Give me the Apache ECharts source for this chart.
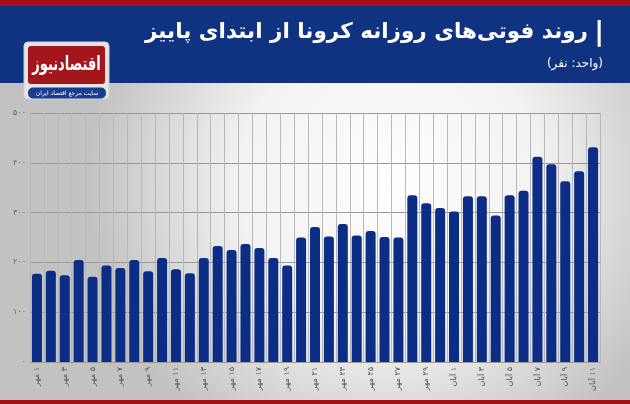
<!DOCTYPE html>
<html>
<head>
<meta charset="utf-8">
<script src="https://cdn.jsdelivr.net/npm/echarts@6/dist/echarts.min.js"></script>
<style>
html,body{margin:0;padding:0;background:#fff;}
#c{width:630px;height:404px;}
</style>
</head>
<body>
<div id="c" dir="rtl"></div>
<script>
var categories = [
  '۱ مهر','۲ مهر','۳ مهر','۴ مهر','۵ مهر','۶ مهر','۷ مهر','۸ مهر','۹ مهر','۱۰ مهر',
  '۱۱ مهر','۱۲ مهر','۱۳ مهر','۱۴ مهر','۱۵ مهر','۱۶ مهر','۱۷ مهر','۱۸ مهر','۱۹ مهر','۲۰ مهر',
  '۲۱ مهر','۲۲ مهر','۲۳ مهر','۲۴ مهر','۲۵ مهر','۲۶ مهر','۲۷ مهر','۲۸ مهر','۲۹ مهر','۳۰ مهر',
  '۱ آبان','۲ آبان','۳ آبان','۴ آبان','۵ آبان','۶ آبان','۷ آبان','۸ آبان','۹ آبان','۱۰ آبان','۱۱ آبان'
];
var deaths = [
  177, 183, 174, 205, 171, 194, 189, 205, 182, 209,
  186, 178, 209, 233, 225, 237, 229, 209, 194, 250,
  271, 252, 277, 254, 263, 251, 250, 335, 319, 309,
  302, 333, 333, 294, 335, 344, 412, 397, 363, 383, 431
];
var yTickLabels = ['۰','۱۰۰','۲۰۰','۳۰۰','۴۰۰','۵۰۰'];
var titleText = 'روند فوتی\u200cهای روزانه کرونا از ابتدای پاییز';
var subtitleText = '(واحد: نفر)';
var logoText = 'اقتصادنیوز';
var logoSub = 'سایت مرجع اقتصاد ایران';

var chart = echarts.init(document.getElementById('c'), null, {renderer: 'canvas'});
var FONT = '"DejaVu Sans", "Noto Sans", sans-serif';
chart.setOption({
  animation: false,
  backgroundColor: {
    type: 'radial', x: 0.62, y: 0.45, r: 0.75,
    colorStops: [{offset: 0, color: '#ffffff'}, {offset: 0.5, color: '#f2f2f2'}, {offset: 1, color: '#c2c2c2'}]
  },
  textStyle: {fontFamily: FONT},
  grid: {left: 30, right: 30, top: 113, bottom: 42},
  xAxis: {
    type: 'category',
    data: categories,
    boundaryGap: true,
    axisLine: {show: true, lineStyle: {color: '#9a9a9a', width: 1}},
    axisTick: {show: false},
    splitLine: {show: true, interval: 0, lineStyle: {color: '#b8b8b8', width: 1}},
    axisLabel: {interval: 1, rotate: 90, fontSize: 8, color: '#555', margin: 5, fontFamily: FONT}
  },
  yAxis: {
    type: 'value',
    min: 0, max: 500, interval: 100,
    axisLine: {show: false},
    axisTick: {show: false},
    splitLine: {show: true, lineStyle: {color: '#999999', width: 1}},
    axisLabel: {fontSize: 8, color: '#666', margin: 4, fontFamily: FONT,
      formatter: function (v) { return yTickLabels[Math.round(v / 100)]; }}
  },
  series: [{
    type: 'bar',
    data: deaths,
    barWidth: 10,
    itemStyle: {color: '#0b2d85', borderRadius: [3, 3, 0, 0]}
  }],
  graphic: [
    {type: 'rect', shape: {x: 0, y: 0, width: 630, height: 6}, style: {fill: '#a50f16'}, z: 10},
    {type: 'rect', shape: {x: 0, y: 6, width: 630, height: 77}, style: {fill: '#0f3381'}, z: 10},
    {type: 'rect', shape: {x: 0, y: 400, width: 630, height: 4}, style: {fill: '#a50f16'}, z: 10},
    {type: 'text', right: 26, top: 19, z: 11,
      style: {text: '|', fill: '#ffffff', font: 'bold 27px ' + FONT}},
    {type: 'text', right: 42, top: 21, z: 11,
      style: {text: titleText, fill: '#ffffff', font: 'bold 21.5px ' + FONT}},
    {type: 'text', right: 27, top: 58, z: 11,
      style: {text: subtitleText, fill: '#ffffff', font: '12px ' + FONT}},
    {type: 'rect', shape: {x: 24, y: 42, width: 85, height: 57, r: 4}, style: {fill: '#e6e6e6', stroke: '#cfcfcf', lineWidth: 1}, z: 11},
    {type: 'rect', shape: {x: 28, y: 46, width: 77, height: 38, r: 3}, style: {fill: '#a3161c'}, z: 12},
    {type: 'text', x: 66.5, y: 65, z: 13, scaleY: 1.5,
      style: {text: logoText, fill: '#ffffff', font: 'bold 13px ' + FONT, align: 'center', verticalAlign: 'middle'}},
    {type: 'rect', shape: {x: 28, y: 87.5, width: 78, height: 11, r: 5}, style: {fill: '#1a3c8f'}, z: 12},
    {type: 'text', x: 67, y: 93, z: 13,
      style: {text: logoSub, fill: '#ffffff', font: '6px ' + FONT, align: 'center', verticalAlign: 'middle'}}
  ]
});
</script>
</body>
</html>
